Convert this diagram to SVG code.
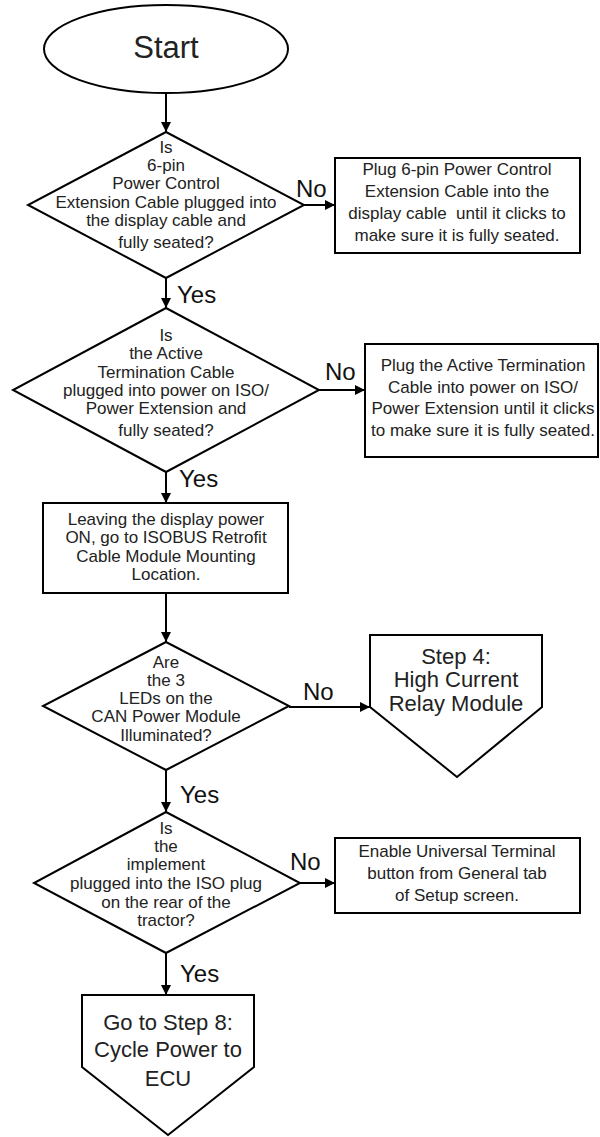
<svg xmlns="http://www.w3.org/2000/svg" width="600" height="1137" viewBox="0 0 600 1137">
<style>
.s{fill:#fff;stroke:#000;stroke-width:2}
.t{font-family:"Liberation Sans",Arial,sans-serif;font-size:17px;fill:#222;text-anchor:middle}
.b{font-size:22px}
.l{font-family:"Liberation Sans",Arial,sans-serif;font-size:24px;fill:#111}
.c{stroke:#000;stroke-width:2;fill:none}
</style>
<defs>
<marker id="a" markerWidth="10" markerHeight="10" refX="10" refY="5" orient="auto" markerUnits="userSpaceOnUse" viewBox="0 0 10 10">
<path d="M0,0 L10,5 L0,10 Z" fill="#000"/>
</marker>
</defs>
<rect width="600" height="1137" fill="#fff"/>
<g id="connectors">
<line class="c" x1="166" y1="93" x2="166" y2="132" marker-end="url(#a)"/>
<line class="c" x1="304" y1="205" x2="335" y2="205" marker-end="url(#a)"/>
<line class="c" x1="166" y1="278" x2="166" y2="308" marker-end="url(#a)"/>
<line class="c" x1="319" y1="390" x2="365" y2="390" marker-end="url(#a)"/>
<line class="c" x1="166" y1="472" x2="166" y2="503" marker-end="url(#a)"/>
<line class="c" x1="166" y1="593" x2="166" y2="642" marker-end="url(#a)"/>
<line class="c" x1="289" y1="707" x2="370" y2="707" marker-end="url(#a)"/>
<line class="c" x1="166" y1="770" x2="166" y2="812" marker-end="url(#a)"/>
<line class="c" x1="300" y1="883" x2="335" y2="883" marker-end="url(#a)"/>
<line class="c" x1="166" y1="953" x2="166" y2="995" marker-end="url(#a)"/>
<text class="l" x="296" y="197">No</text>
<text class="l" x="177" y="303">Yes</text>
<text class="l" x="325" y="380">No</text>
<text class="l" x="179" y="487">Yes</text>
<text class="l" x="303" y="700">No</text>
<text class="l" x="180" y="803">Yes</text>
<text class="l" x="290" y="870">No</text>
<text class="l" x="180" y="982">Yes</text>
</g>
<g id="start">
<ellipse class="s" cx="166" cy="49" rx="122" ry="44"/>
<text class="t" x="166" y="58" style="font-size:31px">Start</text>
</g>
<g id="q1">
<polygon class="s" points="166,132 304,205 166,278 28,205"/>
<text class="t" x="166" y="153">Is</text>
<text class="t" x="166" y="171">6-pin</text>
<text class="t" x="166" y="189">Power Control</text>
<text class="t" x="166" y="208">Extension Cable plugged into</text>
<text class="t" x="166" y="226">the display cable and</text>
<text class="t" x="166" y="248">fully seated?</text>
</g>
<g id="fix1">
<rect class="s" x="335" y="158" width="245" height="95"/>
<text class="t" x="457" y="175">Plug 6-pin Power Control</text>
<text class="t" x="457" y="197">Extension Cable into the</text>
<text class="t" x="457" y="219" xml:space="preserve">display cable  until it clicks to</text>
<text class="t" x="457" y="241">make sure it is fully seated.</text>
</g>
<g id="q2">
<polygon class="s" points="166,308 319,390 166,472 13,390"/>
<text class="t" x="166" y="341">Is</text>
<text class="t" x="166" y="359">the Active</text>
<text class="t" x="166" y="378">Termination Cable</text>
<text class="t" x="166" y="396">plugged into power on ISO/</text>
<text class="t" x="166" y="414">Power Extension and</text>
<text class="t" x="166" y="436">fully seated?</text>
</g>
<g id="fix2">
<rect class="s" x="365" y="344" width="233" height="113"/>
<text class="t" x="483" y="371">Plug the Active Termination</text>
<text class="t" x="483" y="393">Cable into power on ISO/</text>
<text class="t" x="483" y="414">Power Extension until it clicks</text>
<text class="t" x="483" y="436">to make sure it is fully seated.</text>
</g>
<g id="goto">
<rect class="s" x="43" y="503" width="245" height="90"/>
<text class="t" x="166" y="525">Leaving the display power</text>
<text class="t" x="166" y="543">ON, go to ISOBUS Retrofit</text>
<text class="t" x="166" y="562">Cable Module Mounting</text>
<text class="t" x="166" y="580">Location.</text>
</g>
<g id="q3">
<polygon class="s" points="166,642 289,706 166,770 43,706"/>
<text class="t" x="166" y="668">Are</text>
<text class="t" x="166" y="686">the 3</text>
<text class="t" x="166" y="704">LEDs on the</text>
<text class="t" x="166" y="722">CAN Power Module</text>
<text class="t" x="166" y="741">Illuminated?</text>
</g>
<g id="step4">
<polygon class="s" points="370,635 542,635 542,707 457,777 370,707"/>
<text class="t b" x="456" y="664">Step 4:</text>
<text class="t b" x="456" y="687">High Current</text>
<text class="t b" x="456" y="711">Relay Module</text>
</g>
<g id="q4">
<polygon class="s" points="166,812 300,883 166,953 34,883"/>
<text class="t" x="166" y="834">Is</text>
<text class="t" x="166" y="852">the</text>
<text class="t" x="166" y="870">implement</text>
<text class="t" x="166" y="889">plugged into the ISO plug</text>
<text class="t" x="166" y="908">on the rear of the</text>
<text class="t" x="166" y="926">tractor?</text>
</g>
<g id="fix4">
<rect class="s" x="335" y="838" width="245" height="75"/>
<text class="t" x="457" y="857">Enable Universal Terminal</text>
<text class="t" x="457" y="879">button from General tab</text>
<text class="t" x="457" y="901">of Setup screen.</text>
</g>
<g id="step8">
<polygon class="s" points="82,995 254,995 254,1067 168,1135 82,1067"/>
<text class="t b" x="168" y="1030">Go to Step 8:</text>
<text class="t b" x="168" y="1057">Cycle Power to</text>
<text class="t b" x="168" y="1086">ECU</text>
</g>
</svg>
